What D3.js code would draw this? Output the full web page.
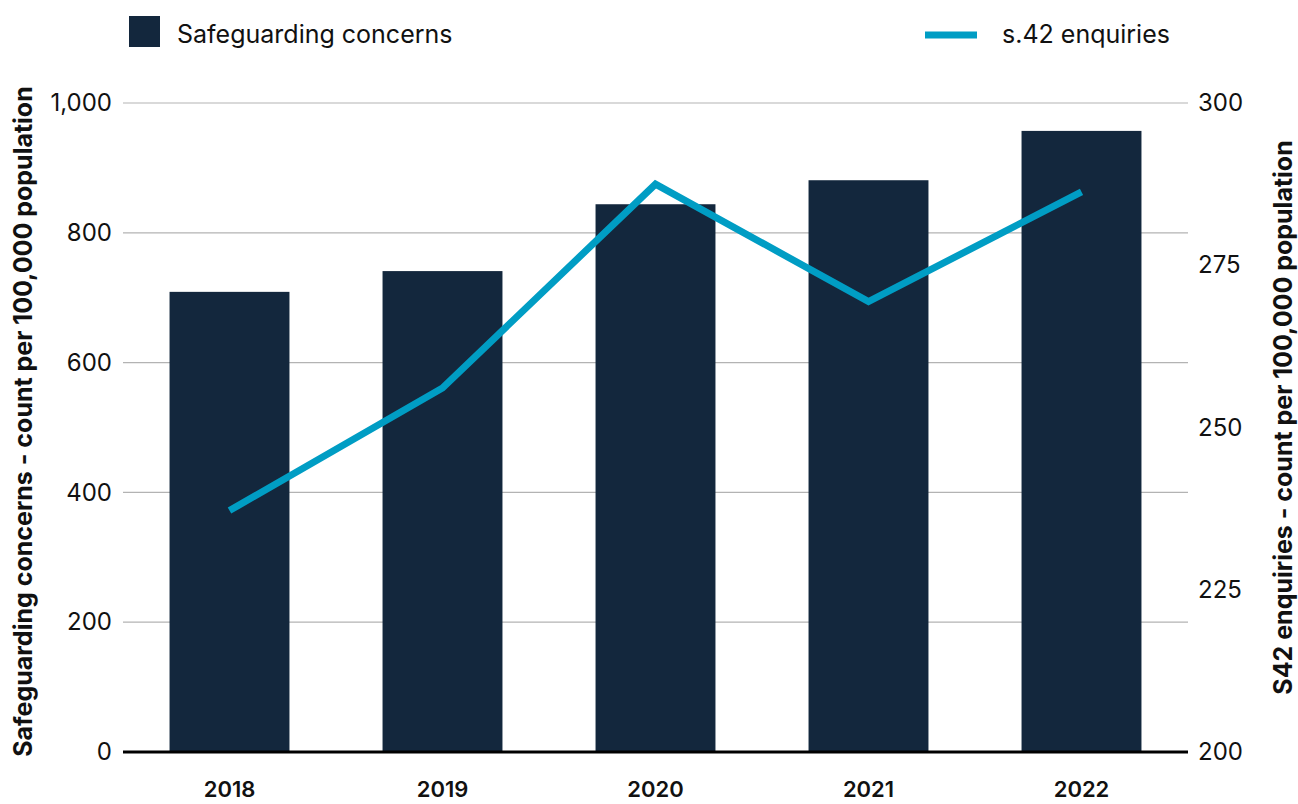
<!DOCTYPE html>
<html>
<head>
<meta charset="utf-8">
<script src="https://cdn.jsdelivr.net/npm/d3@7"></script>
<style>
  html, body { margin: 0; padding: 0; background: #fff; }
  svg { display: block; font-family: Inter, "Noto Sans", sans-serif; }
</style>
</head>
<body>
<svg id="chart" width="1298" height="804"></svg>
<script>
// Annual figures, count per 100,000 population
const years = ["2018", "2019", "2020", "2021", "2022"];
const concerns = [709, 741, 844, 881, 957];
const enquiries = [237.2, 256.1, 287.5, 269.4, 286.3];
const leftTicks = [0, 200, 400, 600, 800, 1000];
const rightTicks = [200, 225, 250, 275, 300];

const barColor = "#13273d";
const lineColor = "#009dc4";

const plot = { left: 123, right: 1188, top: 103, bottom: 752 };

const svg = d3.select("#chart");

const x = d3.scaleBand()
  .domain(years)
  .range([plot.left, plot.right])
  .paddingInner(0.437)
  .paddingOuter(0.2185);

const yL = d3.scaleLinear().domain([0, 1000]).range([plot.bottom, plot.top]);
const yR = d3.scaleLinear().domain([200, 300]).range([plot.bottom, plot.top]);

// horizontal gridlines
svg.append("g")
  .selectAll("line")
  .data(leftTicks.filter(d => d > 0))
  .join("line")
  .attr("x1", plot.left).attr("x2", plot.right)
  .attr("y1", d => yL(d)).attr("y2", d => yL(d))
  .attr("stroke", "#b3b3b3").attr("stroke-width", 1.2);

// left axis labels
const leftAxis = d3.axisLeft(yL).tickValues(leftTicks).tickSize(0).tickPadding(11)
  .tickFormat(d3.format(","));
svg.append("g")
  .attr("transform", `translate(${plot.left},0)`)
  .call(leftAxis)
  .call(g => g.select(".domain").remove())
  .call(g => g.selectAll("text").attr("font-size", 24).attr("fill", "#111")
    .attr("font-family", "Inter, sans-serif"));

// right axis labels
const rightAxis = d3.axisRight(yR).tickValues(rightTicks).tickSize(0).tickPadding(10);
svg.append("g")
  .attr("transform", `translate(${plot.right},0)`)
  .call(rightAxis)
  .call(g => g.select(".domain").remove())
  .call(g => g.selectAll("text").attr("font-size", 24).attr("fill", "#111")
    .attr("font-family", "Inter, sans-serif"));

// bars
svg.append("g")
  .selectAll("rect")
  .data(years.map((y, i) => ({ year: y, value: concerns[i] })))
  .join("rect")
  .attr("x", d => x(d.year))
  .attr("width", x.bandwidth())
  .attr("y", d => yL(d.value))
  .attr("height", d => yL(0) - yL(d.value))
  .attr("fill", barColor);

// baseline
svg.append("line")
  .attr("x1", plot.left).attr("x2", plot.right)
  .attr("y1", yL(0)).attr("y2", yL(0))
  .attr("stroke", "#000").attr("stroke-width", 3);

// x axis labels
const xAxis = d3.axisBottom(x).tickSize(0).tickPadding(29);
svg.append("g")
  .attr("transform", `translate(0,${plot.bottom})`)
  .call(xAxis)
  .call(g => g.select(".domain").remove())
  .call(g => g.selectAll("text").attr("font-size", 22).attr("font-weight", 600)
    .attr("fill", "#111").attr("font-family", "Inter, sans-serif"));

// enquiries line
const line = d3.line()
  .x((d, i) => x(years[i]) + x.bandwidth() / 2)
  .y(d => yR(d));
svg.append("path")
  .datum(enquiries)
  .attr("d", line)
  .attr("fill", "none")
  .attr("stroke", lineColor)
  .attr("stroke-width", 7)
  .attr("stroke-linejoin", "miter")
  .attr("stroke-linecap", "butt");

// axis titles
svg.append("text")
  .attr("transform", `translate(32,${(plot.top + plot.bottom) / 2 - 6}) rotate(-90)`)
  .attr("text-anchor", "middle")
  .attr("font-size", 25).attr("font-weight", 700).attr("fill", "#111")
  .text("Safeguarding concerns - count per 100,000 population");

svg.append("text")
  .attr("transform", `translate(1292,${(plot.top + plot.bottom) / 2 - 10}) rotate(-90)`)
  .attr("text-anchor", "middle")
  .attr("font-size", 25).attr("font-weight", 700).attr("fill", "#111")
  .text("S42 enquiries - count per 100,000 population");

// legend
const legend = svg.append("g");
legend.append("rect")
  .attr("x", 129).attr("y", 16).attr("width", 31).attr("height", 31)
  .attr("fill", barColor);
legend.append("text")
  .attr("x", 177).attr("y", 43)
  .attr("font-size", 25).attr("fill", "#111")
  .text("Safeguarding concerns");
legend.append("line")
  .attr("x1", 925).attr("x2", 977).attr("y1", 35).attr("y2", 35)
  .attr("stroke", lineColor).attr("stroke-width", 7);
legend.append("text")
  .attr("x", 1002).attr("y", 43)
  .attr("font-size", 25).attr("fill", "#111")
  .text("s.42 enquiries");
</script>
</body>
</html>
